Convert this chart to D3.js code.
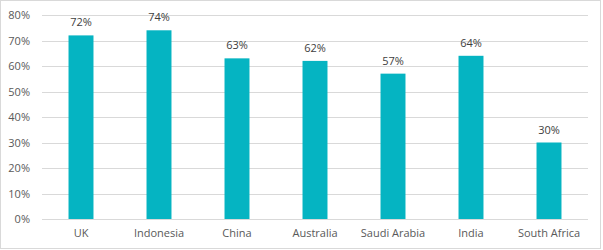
<!DOCTYPE html>
<html>
<head>
<meta charset="utf-8">
<script src="https://unpkg.com/d3@7/dist/d3.min.js"></script>
<style>
  body { margin: 0; background: #fff; }
  text { font-family: "Open Sans", "Liberation Sans", sans-serif; }
</style>
</head>
<body>
<div id="chart"></div>
<script>
// data
const countries = ["UK", "Indonesia", "China", "Australia", "Saudi Arabia", "India", "South Africa"];
const shares = [72, 74, 63, 62, 57, 64, 30];
const yTicks = [0, 10, 20, 30, 40, 50, 60, 70, 80];

const width = 603, height = 250;
const margin = {top: 15, right: 15, bottom: 31, left: 42};

const svg = d3.select("#chart").append("svg")
  .attr("width", width)
  .attr("height", height);

// outer frame
svg.append("rect")
  .attr("x", 0.5).attr("y", 0.5)
  .attr("width", width - 3).attr("height", height - 2)
  .attr("fill", "#fff")
  .attr("stroke", "#d9d9d9");

const x = d3.scaleBand()
  .domain(countries)
  .range([margin.left, width - margin.right])
  .paddingInner(0.68)
  .paddingOuter(0.34);

const y = d3.scaleLinear()
  .domain([0, 80])
  .range([height - margin.bottom, margin.top]);

// gridlines
svg.append("g")
  .selectAll("line")
  .data(yTicks).enter()
  .append("line")
  .attr("x1", margin.left)
  .attr("x2", width - margin.right)
  .attr("y1", d => Math.round(y(d)) + 0.5)
  .attr("y2", d => Math.round(y(d)) + 0.5)
  .attr("stroke", "#d9d9d9");

// y axis labels
const yAxis = d3.axisLeft(y).tickValues(yTicks).tickFormat(d => d + "%").tickSize(0).tickPadding(12);
svg.append("g")
  .attr("transform", `translate(${margin.left}, 0)`)
  .call(yAxis)
  .call(g => g.select(".domain").remove())
  .call(g => g.selectAll("text").attr("fill", "#595959").style("font-size", "11px"));

// x axis labels
const xAxis = d3.axisBottom(x).tickSize(0).tickPadding(10);
svg.append("g")
  .attr("transform", `translate(0, ${height - margin.bottom})`)
  .call(xAxis)
  .call(g => g.select(".domain").remove())
  .call(g => g.selectAll("text").attr("fill", "#595959").style("font-size", "11px"));

const rows = countries.map((c, i) => ({country: c, value: shares[i]}));

// bars
svg.append("g")
  .selectAll("rect")
  .data(rows).enter()
  .append("rect")
  .attr("x", d => x(d.country))
  .attr("y", d => y(d.value))
  .attr("width", x.bandwidth())
  .attr("height", d => y(0) - y(d.value))
  .attr("fill", "#05b4c2");

// value labels
svg.append("g")
  .selectAll("text")
  .data(rows).enter()
  .append("text")
  .attr("x", d => x(d.country) + x.bandwidth() / 2)
  .attr("y", d => y(d.value) - 9)
  .attr("text-anchor", "middle")
  .attr("fill", "#404040")
  .style("font-size", "11px")
  .text(d => d.value + "%");
</script>
</body>
</html>
